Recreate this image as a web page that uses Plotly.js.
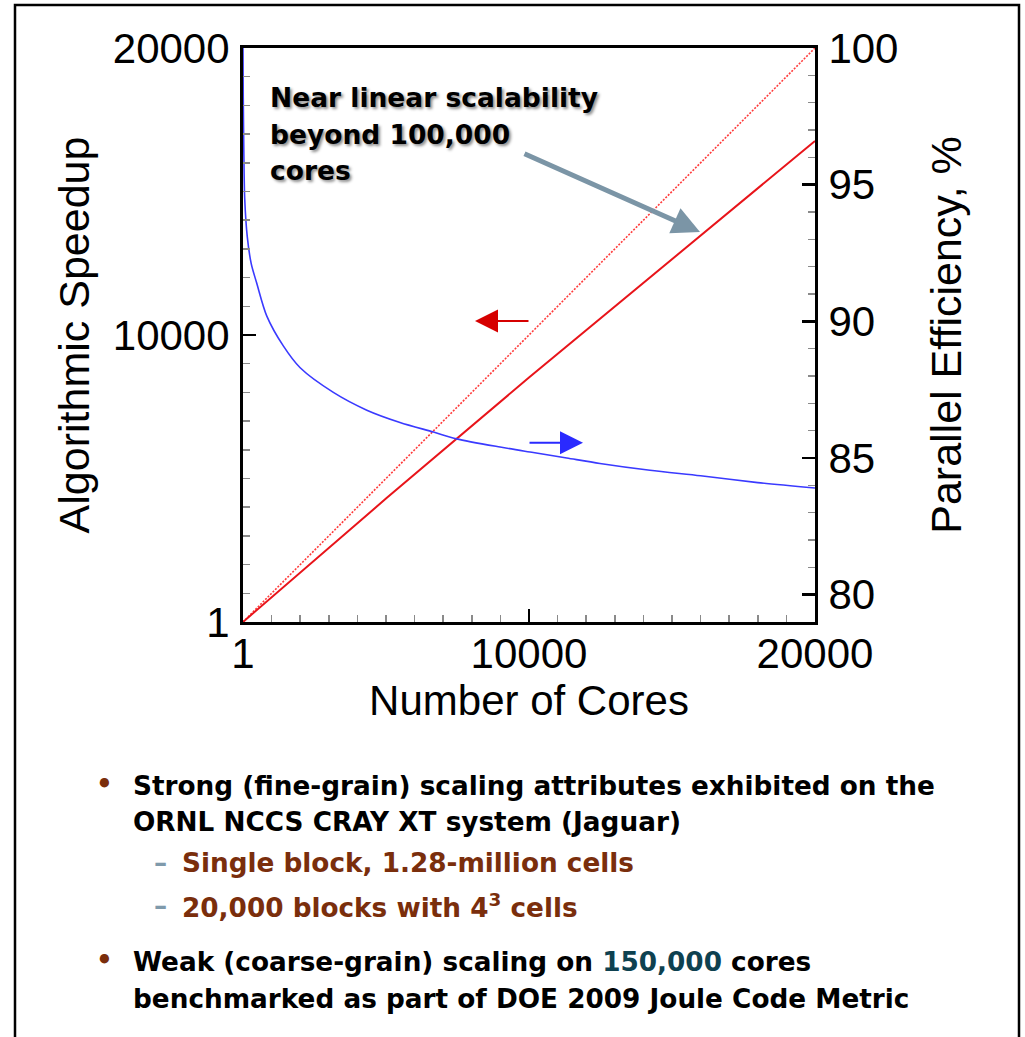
<!DOCTYPE html>
<html>
<head>
<meta charset="utf-8">
<script src="https://cdn.plot.ly/plotly-3.0.1.min.js"></script>
<style>
  html, body { margin: 0; padding: 0; background: #ffffff; }
  #chart { width: 1025px; height: 1037px; }
</style>
</head>
<body>
<div id="chart"></div>
<script>
// ---------------- data ----------------
const idealCores      = [1, 20000];
const idealSpeedup    = [1, 20000];

const actualCores     = [1, 2000, 5000, 10000, 15000, 20000];
const actualSpeedup   = [1, 1730, 4300, 8520, 12650, 16760];

const effCores        = [1, 10, 30, 60, 150, 290, 480, 830, 1410, 2000, 3160, 4330,
                         5490, 6660, 7470, 8990, 10150, 11320, 12480, 14230, 16000, 18000, 20000];
const efficiency      = [100, 98.2, 96.2, 94.5, 93.1, 92.1, 91.4, 90.2, 89.1, 88.3, 87.4, 86.75,
                         86.3, 85.95, 85.7, 85.4, 85.2, 85.0, 84.8, 84.55, 84.35, 84.1, 83.9];

const xTickVals       = [1, 10000, 20000];
const xTickText       = ['1', '10000', '20000'];
const yTickVals       = [1, 10000, 20000];
const yTickText       = ['1', '10000', '20000'];
const y2TickVals      = [80, 85, 90, 95, 100];
const y2TickText      = ['80', '85', '90', '95', '100'];

const calloutLines    = ['Near linear scalability', 'beyond 100,000', 'cores'];

// ---------------- layout helpers (pixel -> paper) ----------------
const L = 243, R = 815, T = 48, B = 622;
const PX = p => (p - L) / (R - L);
const PY = p => (B - p) / (B - T);

const AXF = 'Liberation Sans, Arial, Helvetica, sans-serif';
const TXF = 'DejaVu Sans, Liberation Sans, Arial, sans-serif';

const traces = [
  { x: idealCores, y: idealSpeedup, type: 'scatter', mode: 'lines', yaxis: 'y',
    line: { color: '#ff3b3b', width: 1.6, dash: '2px,1.5px' }, hoverinfo: 'skip' },
  { x: actualCores, y: actualSpeedup, type: 'scatter', mode: 'lines', yaxis: 'y',
    line: { color: '#e8141a', width: 2 }, hoverinfo: 'skip' },
  { x: effCores, y: efficiency, type: 'scatter', mode: 'lines', yaxis: 'y2',
    line: { color: '#3a3aff', width: 1.6, shape: 'spline', smoothing: 0.8 }, hoverinfo: 'skip' }
];

const axisCommon = {
  showgrid: false, zeroline: false, showline: true, linecolor: '#000', linewidth: 3,
  ticks: 'inside', ticklen: 13, tickwidth: 2.5, tickcolor: '#000',
  tickfont: { family: AXF, size: 42, color: '#000' }
};

const annotations = [];

// callout arrow (gray)
annotations.push({
  x: 15979, y: 13590, xref: 'x', yref: 'y',
  ax: 9790, ay: 16340, axref: 'x', ayref: 'y',
  text: '', showarrow: true, arrowhead: 2, arrowsize: 1.1, arrowwidth: 5,
  arrowcolor: '#7b95a6', standoff: 0, startstandoff: 0
});
// red arrow (points to left axis)
annotations.push({
  x: 8112, y: 10488, xref: 'x', yref: 'y',
  ax: 10035, ay: 10488, axref: 'x', ayref: 'y',
  text: '', showarrow: true, arrowhead: 2, arrowsize: 2.3, arrowwidth: 2,
  arrowcolor: '#d60000'
});
// blue arrow (points to right axis)
annotations.push({
  x: 11889, y: 85.56, xref: 'x', yref: 'y2',
  ax: 9966, ay: 85.56, axref: 'x', ayref: 'y2',
  text: '', showarrow: true, arrowhead: 2, arrowsize: 2.3, arrowwidth: 2,
  arrowcolor: '#2a2aff'
});
// callout text lines
const calloutY = [98, 134, 170];
calloutLines.forEach((t, i) => {
  annotations.push({
    x: PX(268), y: PY(calloutY[i]), xref: 'paper', yref: 'paper',
    xanchor: 'left', yanchor: 'middle', showarrow: false, text: t,
    font: { family: TXF, size: 26.5, color: '#000', weight: 'bold',
            shadow: '2px 2px 3px rgba(0,0,0,0.45)' }
  });
});

// bullet text below the chart
const BROWN = '#7a2e0c';
const DASH = '#7f9aab';
const TEAL = '#0e4150';
function textLine(px, py, txt, color) {
  annotations.push({
    x: PX(px), y: PY(py), xref: 'paper', yref: 'paper',
    xanchor: 'left', yanchor: 'middle', showarrow: false, text: txt,
    font: { family: TXF, size: 26.3, color: color, weight: 'bold' }
  });
}
textLine(94, 784, '•', BROWN);
textLine(131, 786, 'Strong (fine-grain) scaling attributes exhibited on the', '#000');
textLine(131, 822, 'ORNL NCCS CRAY XT system (Jaguar)', '#000');
textLine(152, 863, '–', DASH);
textLine(180, 863, 'Single block, 1.28-million cells', BROWN);
textLine(152, 906, '–', DASH);
textLine(180, 906, '20,000 blocks with 4<sup>3</sup> cells', BROWN);
textLine(94, 960, '•', BROWN);
textLine(131, 962, 'Weak (coarse-grain) scaling on <span style="color:' + TEAL + '">150,000</span> cores', '#000');
textLine(131, 999, 'benchmarked as part of DOE 2009 Joule Code Metric', '#000');

const layout = {
  width: 1025, height: 1037,
  margin: { l: L, r: 1025 - R, t: T, b: 1037 - B, pad: 0 },
  paper_bgcolor: '#ffffff', plot_bgcolor: '#ffffff',
  showlegend: false,
  xaxis: Object.assign({}, axisCommon, {
    range: [1, 20000], tickmode: 'array', tickvals: xTickVals, ticktext: xTickText,
    mirror: true, ticklabelstandoff: -7,
    minor: { dtick: 1000, tick0: 0, ticks: 'inside', ticklen: 7, tickwidth: 1.5, tickcolor: '#8a8a8a', showgrid: false },
    title: { text: 'Number of Cores', font: { family: AXF, size: 42, color: '#000' }, standoff: 8 }
  }),
  yaxis: Object.assign({}, axisCommon, {
    range: [1, 20000], tickmode: 'array', tickvals: yTickVals, ticktext: yTickText,
    ticklabelstandoff: 2,
    minor: { dtick: 1000, tick0: 0, ticks: 'inside', ticklen: 7, tickwidth: 1.5, tickcolor: '#8a8a8a', showgrid: false },
    title: { text: 'Algorithmic Speedup', font: { family: AXF, size: 43, color: '#000' }, standoff: 10 }
  }),
  yaxis2: Object.assign({}, axisCommon, {
    overlaying: 'y', side: 'right',
    range: [79, 100], tickmode: 'array', tickvals: y2TickVals, ticktext: y2TickText,
    ticklabelstandoff: 2,
    minor: { dtick: 1, tick0: 0, ticks: 'inside', ticklen: 7, tickwidth: 1.5, tickcolor: '#8a8a8a', showgrid: false },
    title: { text: 'Parallel Efficiency, %', font: { family: AXF, size: 43, color: '#000' }, standoff: 34 }
  }),
  annotations: annotations,
  shapes: [
    { type: 'path', xref: 'paper', yref: 'paper',
      path: 'M ' + PX(15) + ' ' + PY(1040) + ' L ' + PX(15) + ' ' + PY(5) +
            ' L ' + PX(1019) + ' ' + PY(5) + ' L ' + PX(1019) + ' ' + PY(1040),
      line: { color: '#000', width: 2.5 } }
  ]
};

Plotly.newPlot('chart', traces, layout, { displayModeBar: false, staticPlot: true });
</script>
</body>
</html>
